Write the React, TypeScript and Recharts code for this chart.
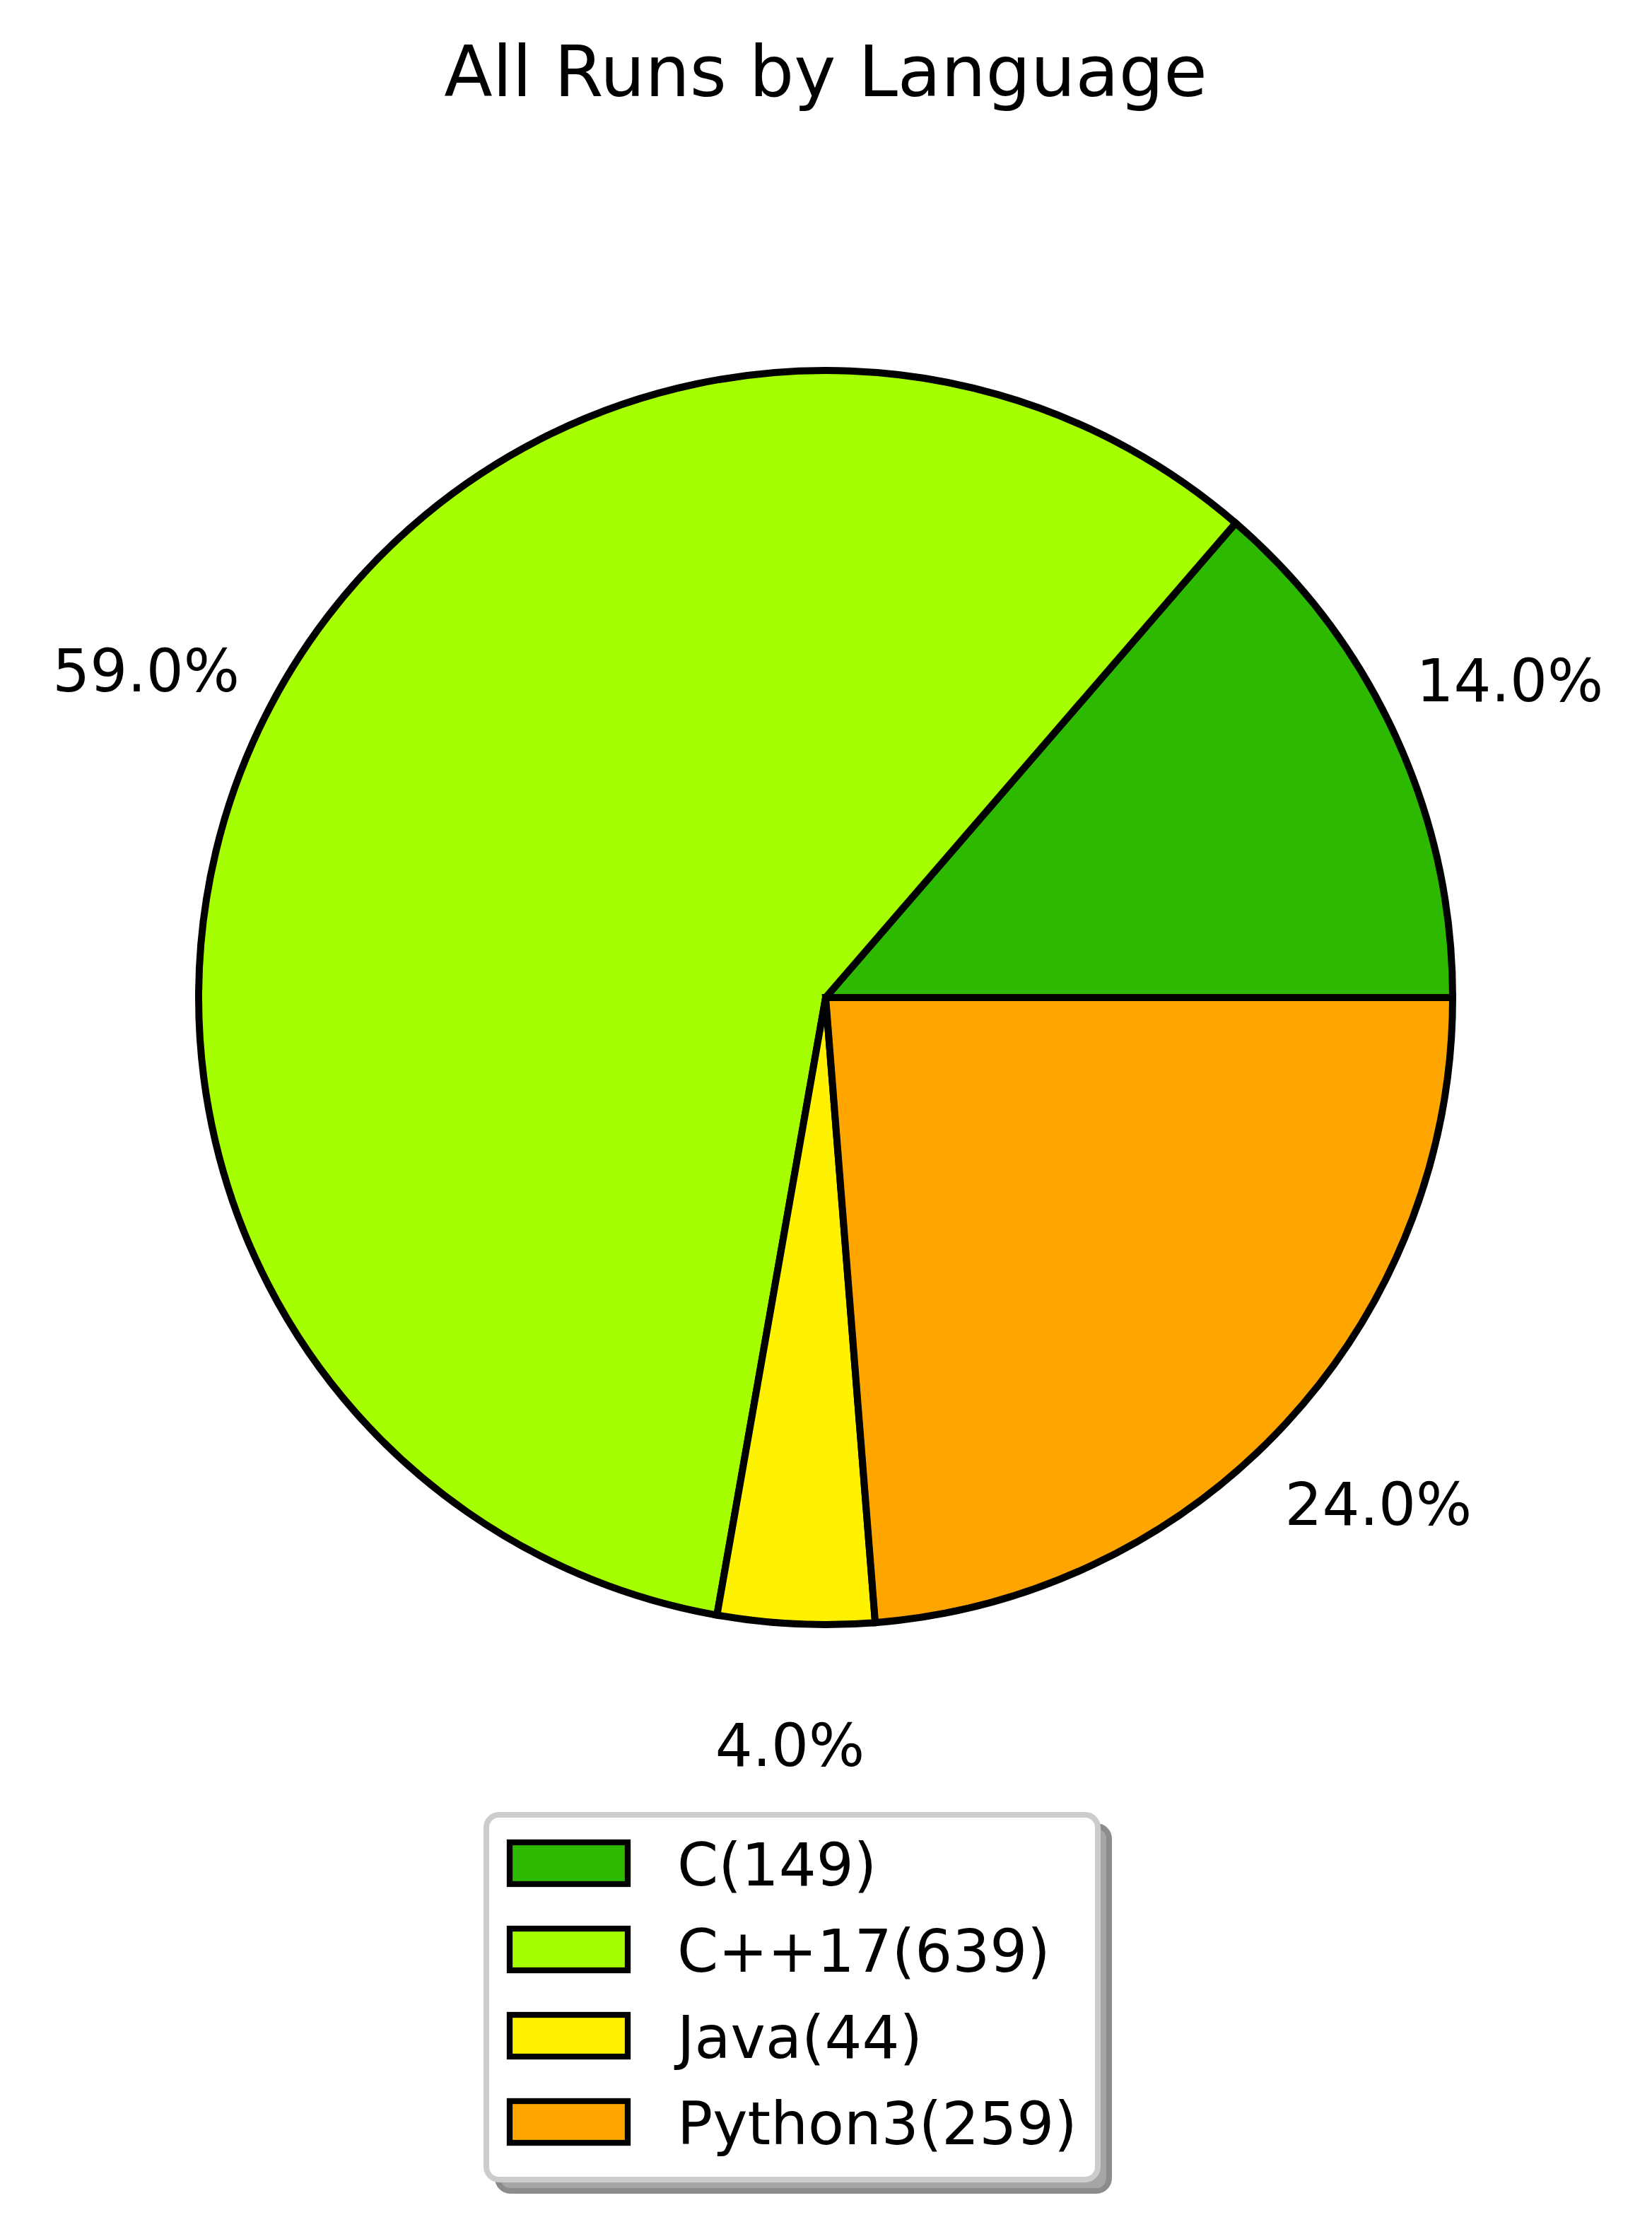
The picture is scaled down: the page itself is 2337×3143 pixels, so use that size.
import React from 'react';
import { PieChart, Pie, Cell, Legend } from 'recharts';

const chartTitle = 'All Runs by Language';
const languages = ['C', 'C++17', 'Java', 'Python3'];
const runCounts = [149, 639, 44, 259];
const percentLabels = ['14.0%', '59.0%', '4.0%', '24.0%'];
const sliceColors = ['#2DB900', '#A6FF00', '#FFF200', '#FFA500'];

const pieData = languages.map((name, i) => ({ name, value: runCounts[i] }));
const legendLabels = languages.map((name, i) => `${name}(${runCounts[i]})`);

const FONT = 'DejaVu Sans, Verdana, sans-serif';
const RADIAN = Math.PI / 180;

const renderLabel = (props: any) => {
  const { cx, cy, midAngle, outerRadius, index } = props;
  const r = outerRadius * 1.2;
  const x = cx + r * Math.cos(-midAngle * RADIAN);
  const y = cy + r * Math.sin(-midAngle * RADIAN);
  return (
    <text
      key={`lbl-${index}`}
      x={x}
      y={y + 24}
      textAnchor="middle"
      fontFamily={FONT}
      fontSize={83.3}
      fill="#000"
    >
      {percentLabels[index]}
    </text>
  );
};

const renderLegend = (props: any) => {
  const payload = props?.payload ?? [];
  const items = languages.map((_, i) => ({
    color: (payload[i] && payload[i].color) || sliceColors[i],
    label: legendLabels[i],
  }));
  return (
    <svg width={900} height={560} style={{ display: 'block', overflow: 'visible' }}>
      <rect x={20} y={20} width={865} height={516} rx={18} ry={18} fill="#a6a6a6" stroke="#8c8c8c" strokeWidth={8} />
      <rect x={4} y={4} width={865} height={516} rx={18} ry={18} fill="#ffffff" stroke="#cccccc" strokeWidth={8} />
      {items.map((it, i) => (
        <g key={i}>
          <rect x={37} y={43 + i * 122} width={167} height={59} fill={it.color} stroke="#000" strokeWidth={8.3} />
          <text x={274} y={104 + i * 122} fontFamily={FONT} fontSize={83.3} fill="#000">
            {it.label}
          </text>
        </g>
      ))}
    </svg>
  );
};

export default function App() {
  return (
    <div style={{ position: 'absolute', left: 0, top: 0, width: 2337, height: 3143, background: '#fff' }}>
      <PieChart width={2337} height={3143} margin={{ top: 0, right: 0, bottom: 0, left: 0 }}>
        <Pie
          data={pieData}
          dataKey="value"
          nameKey="name"
          cx={1168}
          cy={1411}
          innerRadius={0}
          outerRadius={887}
          startAngle={0}
          endAngle={360}
          paddingAngle={0}
          stroke="#000"
          strokeWidth={10}
          label={renderLabel}
          labelLine={false}
          isAnimationActive={false}
        >
          {pieData.map((d, i) => (
            <Cell key={d.name} fill={sliceColors[i]} stroke="#000" strokeWidth={10} />
          ))}
        </Pie>
        <Legend
          content={renderLegend}
          wrapperStyle={{ position: 'absolute', left: 684, top: 2563, width: 900, height: 560 }}
        />
      </PieChart>
      <svg
        width={2337}
        height={200}
        style={{ position: 'absolute', left: 0, top: 0, pointerEvents: 'none' }}
      >
        <text x={1168} y={136} textAnchor="middle" fontFamily={FONT} fontSize={100} fill="#000">
          {chartTitle}
        </text>
      </svg>
    </div>
  );
}
